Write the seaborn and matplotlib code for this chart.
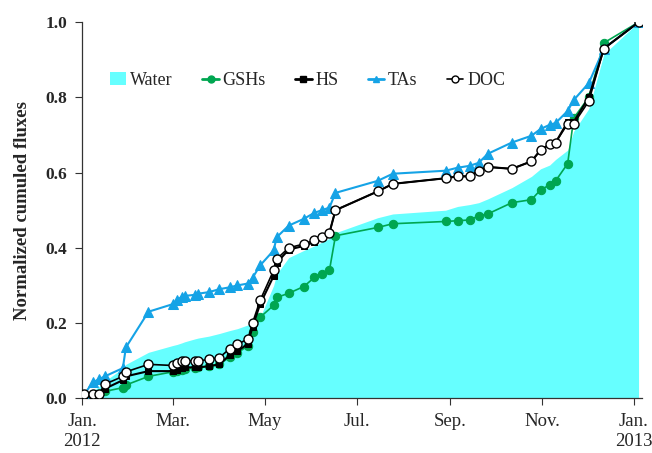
import pandas as pd
import matplotlib.pyplot as plt
from matplotlib.patches import Patch
from matplotlib.lines import Line2D
import seaborn as sns

# Fechas de muestreo
fechas = ["2012-01-02", "2012-01-08", "2012-01-12", "2012-01-16", "2012-01-28",
          "2012-01-30", "2012-02-14", "2012-03-01", "2012-03-04", "2012-03-07",
          "2012-03-09", "2012-03-16", "2012-03-18", "2012-03-25", "2012-04-01",
          "2012-04-08", "2012-04-13", "2012-04-20", "2012-04-23", "2012-04-28",
          "2012-05-07", "2012-05-09", "2012-05-17", "2012-05-27", "2012-06-03",
          "2012-06-08", "2012-06-13", "2012-06-17", "2012-07-15", "2012-07-25",
          "2012-08-29", "2012-09-06", "2012-09-14", "2012-09-20", "2012-09-26",
          "2012-10-12", "2012-10-25", "2012-10-31", "2012-11-06", "2012-11-10",
          "2012-11-18", "2012-11-22", "2012-12-02", "2012-12-12", "2013-01-04"]

water = [0.0, 0.02, 0.03, 0.045, 0.08, 0.09, 0.122, 0.14, 0.143, 0.147,
         0.15, 0.158, 0.16, 0.165, 0.172, 0.18, 0.185, 0.195, 0.205, 0.215,
         0.30, 0.33, 0.374, 0.393, 0.405, 0.415, 0.425, 0.44, 0.48, 0.49,
         0.50, 0.51, 0.515, 0.52, 0.53, 0.56, 0.59, 0.61, 0.62, 0.635,
         0.66, 0.71, 0.77, 0.915, 1.0]

gshs = [0.0, 0.005, 0.01, 0.018, 0.028, 0.035, 0.058, 0.07, 0.073, 0.076,
        0.078, 0.08, 0.082, 0.085, 0.09, 0.11, 0.12, 0.14, 0.175, 0.215,
        0.247, 0.268, 0.279, 0.297, 0.321, 0.331, 0.34, 0.432, 0.454, 0.464,
        0.47, 0.472, 0.474, 0.485, 0.49, 0.52, 0.528, 0.554, 0.567, 0.578,
        0.624, 0.745, 0.80, 0.945, 1.0]

hs = [0.005, 0.005, 0.005, 0.025, 0.048, 0.058, 0.072, 0.072, 0.075, 0.08,
      0.082, 0.082, 0.082, 0.085, 0.09, 0.115, 0.125, 0.145, 0.19, 0.25,
      0.325, 0.36, 0.395, 0.405, 0.415, 0.43, 0.44, 0.50, 0.55, 0.57,
      0.585, 0.59, 0.59, 0.605, 0.615, 0.61, 0.63, 0.66, 0.675, 0.68,
      0.735, 0.735, 0.80, 0.93, 1.0]

tas = [0.008, 0.042, 0.05, 0.058, 0.08, 0.135, 0.23, 0.25, 0.26, 0.27,
       0.272, 0.275, 0.278, 0.282, 0.29, 0.295, 0.30, 0.305, 0.32, 0.353,
       0.393, 0.428, 0.459, 0.477, 0.493, 0.50, 0.507, 0.546, 0.578, 0.597,
       0.605, 0.613, 0.618, 0.626, 0.65, 0.68, 0.698, 0.716, 0.727, 0.732,
       0.764, 0.793, 0.838, 0.93, 1.0]

doc = [0.01, 0.01, 0.01, 0.037, 0.058, 0.07, 0.09, 0.087, 0.093, 0.099,
       0.099, 0.099, 0.099, 0.103, 0.108, 0.132, 0.143, 0.158, 0.20, 0.26,
       0.34, 0.37, 0.40, 0.41, 0.42, 0.43, 0.44, 0.50, 0.55, 0.57,
       0.585, 0.59, 0.59, 0.605, 0.615, 0.61, 0.63, 0.66, 0.675, 0.68,
       0.73, 0.73, 0.79, 0.93, 1.0]

etiquetas_x = ["Jan.\n2012", "Mar.", "May", "Jul.", "Sep.", "Nov.", "Jan.\n2013"]
ticks_x = ["2012-01-01", "2012-03-01", "2012-05-01", "2012-07-01",
           "2012-09-01", "2012-11-01", "2013-01-01"]
ticks_y = [0.0, 0.2, 0.4, 0.6, 0.8, 1.0]

fechas = pd.to_datetime(fechas)

sns.set_style("ticks")
plt.rcParams["font.family"] = ["Liberation Serif", "DejaVu Serif"]

fig = plt.figure(figsize=(6.52, 4.53), dpi=100)
ax = fig.add_axes([0.126, 0.121, 0.858, 0.830])

cian = "#66FFFF"
verde = "#00A651"
azul = "#15A3E6"

ax.fill_between(fechas, 0, water, color=cian, lw=0, zorder=1)

sns.lineplot(x=fechas, y=gshs, ax=ax, color=verde, lw=1.2, marker="o",
             markersize=6, markerfacecolor=verde, markeredgecolor=verde, zorder=2)
sns.lineplot(x=fechas, y=tas, ax=ax, color=azul, lw=1.5, marker="^",
             markersize=6.5, markerfacecolor=azul, markeredgecolor=azul, zorder=3)
sns.lineplot(x=fechas, y=hs, ax=ax, color="black", lw=1.5, marker="s",
             markersize=5, markerfacecolor="black", markeredgecolor="black", zorder=4)
sns.lineplot(x=fechas, y=doc, ax=ax, color="black", lw=1.2, marker="o",
             markersize=6.5, markerfacecolor="white", markeredgecolor="black",
             markeredgewidth=1, zorder=5)

ax.set_xlim(pd.Timestamp("2012-01-01"), pd.Timestamp("2013-01-06"))
ax.set_ylim(0, 1.0)
ax.set_xticks(pd.to_datetime(ticks_x))
ax.set_xticklabels(etiquetas_x, fontsize=13.5)
ax.set_yticks(ticks_y)
ax.set_yticklabels(["%.1f" % v for v in ticks_y], fontsize=12.5, fontweight="bold")
ax.tick_params(axis="both", direction="out", length=5, width=0.8, color="#333333")
ax.tick_params(axis="x", pad=6)
ax.tick_params(axis="y", pad=6)
ax.set_ylabel("Normalized cumuled fluxes", fontsize=13.5, fontweight="bold", labelpad=10)
ax.set_xlabel("")
sns.despine(ax=ax)
for s in ["left", "bottom"]:
    ax.spines[s].set_color("#333333")
    ax.spines[s].set_linewidth(0.9)

# Leyenda
handles = [
    Patch(facecolor=cian, edgecolor="none"),
    Line2D([], [], color=verde, lw=2, marker="o", markersize=5, markerfacecolor=verde, markeredgecolor=verde),
    Line2D([], [], color="black", lw=2, marker="s", markersize=4.5, markerfacecolor="black"),
    Line2D([], [], color=azul, lw=2, marker="^", markersize=5, markerfacecolor=azul, markeredgecolor=azul),
    Line2D([], [], color="black", lw=1.2, marker="o", markersize=5, markerfacecolor="white", markeredgecolor="black"),
]
ax.legend(handles, ["Water", "GSHs", "HS", "TAs", "DOC"], loc="center",
          bbox_to_anchor=(0.403, 0.845), ncol=5, frameon=False, fontsize=13,
          handlelength=0.9, handletextpad=0.2, columnspacing=1.65)

plt.savefig("out.png", dpi=100)
